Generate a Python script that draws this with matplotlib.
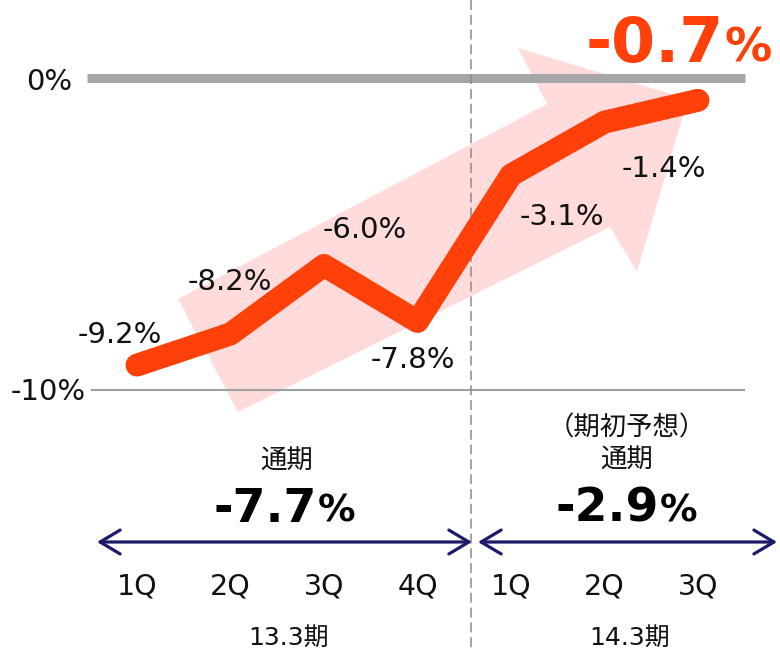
import matplotlib
matplotlib.use("Agg")
import matplotlib.pyplot as plt
from matplotlib.patches import Polygon, FancyArrowPatch, ArrowStyle

# ---- data ----
quarters = ["1Q", "2Q", "3Q", "4Q", "1Q", "2Q", "3Q"]
values = [-9.2, -8.2, -6.0, -7.8, -3.1, -1.4, -0.7]
periods = ["13.3期", "14.3期"]
annual_values = [-7.7, -2.9]
y_ticks = [0, -10]
y_tick_labels = ["0%", "-10%"]

W, H = 780, 650
fig = plt.figure(figsize=(W / 100, H / 100), dpi=100)
ax = fig.add_axes([0, 0, 1, 1])
ax.set_axis_off()

# pixel <-> data mapping
X0, DX = 137.0, 93.5      # x pixel of first quarter, spacing
Y0, DY = 78.5, 31.15      # y pixel of 0%, pixels per 1%
ax.set_xlim(-X0 / DX, (W - X0) / DX)
ax.set_ylim((Y0 - H) / DY, Y0 / DY)


def X(px):
    return (px - X0) / DX


def Y(py):
    return (Y0 - py) / DY


CJK = ["DejaVu Sans", "Noto Sans CJK JP"]
RED = "#FF4009"
NAVY = "#1B1A6B"
TXT = "#111111"

# pink background arrow (decoration)
arrow_px = [(238, 412), (178, 299), (547, 104), (518, 48), (688, 99),
            (637, 272), (610, 227)]
ax.add_patch(Polygon([(X(a), Y(b)) for a, b in arrow_px], closed=True,
                     facecolor="#FFDBDB", edgecolor="none", zorder=1))

# reference lines
ax.plot([X(87), X(745)], [y_ticks[0]] * 2, color="#A6A6A6", lw=6.5,
        solid_capstyle="butt", zorder=2)
ax.plot([X(91), X(745)], [y_ticks[1]] * 2, color="#A0A0A0", lw=1.5,
        solid_capstyle="butt", zorder=2)
for yt, lab, bl in zip(y_ticks, y_tick_labels, [90.5, 400]):
    ax.text(X(72) if yt == 0 else X(86), Y(bl), lab, ha="right", va="baseline",
            fontsize=21, color=TXT, zorder=4)

# divider
ax.plot([3.57, 3.57], [Y(0), Y(H)], color="#8C8C8C", lw=1.1,
        dashes=(6.5, 3.2), zorder=2)

# main line
xs = list(range(len(values)))
ax.plot(xs, values, color=RED, lw=16.5, solid_capstyle="round",
        solid_joinstyle="round", zorder=3)

# data labels: horizontal offset (px) from each point, baseline (px)
label_dx_px = [-17, -1, 41, -5, 51, 59]
label_base_px = [343, 290, 238, 368, 225, 177]
for i, v in enumerate(values[:-1]):
    cx = X0 + DX * i + label_dx_px[i]
    ax.text(X(cx), Y(label_base_px[i]), f"{v:.1f}%", ha="center",
            va="baseline", fontsize=21, color=TXT, zorder=4)

# latest value, large red
last = values[-1]
ax.text(X(724), Y(62), f"{last:.1f}", ha="right", va="baseline",
        fontsize=45.5, fontweight="bold", color=RED, zorder=4)
ax.text(X(725), Y(62), "%", ha="left", va="baseline",
        fontsize=34, fontweight="bold", color=RED, zorder=4)

# quarter labels
for i, q in enumerate(quarters):
    ax.text(i, Y(594), q, ha="center", va="baseline", fontsize=20.5,
            color=TXT, zorder=4)

# period labels
for cx, p in zip([289, 630], periods):
    ax.text(X(cx), Y(645), p, ha="center", va="baseline", fontsize=18,
            family=CJK, color=TXT, zorder=4)

# annual notes
ax.text(X(287), Y(469), "通期", ha="center", va="baseline", fontsize=19,
        family=CJK, color=TXT, zorder=4)
ax.text(X(627), Y(435), "（期初予想）", ha="center", va="baseline",
        fontsize=19, family=CJK, color=TXT, zorder=4)
ax.text(X(627), Y(468), "通期", ha="center", va="baseline", fontsize=19,
        family=CJK, color=TXT, zorder=4)

# annual values
for split, v in zip([317, 659], annual_values):
    ax.text(X(split), Y(522), f"{v:.1f}", ha="right", va="baseline",
            fontsize=34, fontweight="bold", color="black", zorder=4)
    ax.text(X(split + 1), Y(522), "%", ha="left", va="baseline",
            fontsize=27, fontweight="bold", color="black", zorder=4)

# period double arrows
style = ArrowStyle("<->", head_length=14.4, head_width=8.6)
for a, b in [(97, 472), (478, 777)]:
    ax.add_patch(FancyArrowPatch((X(a), Y(542)), (X(b), Y(542)),
                                 arrowstyle=style, mutation_scale=1,
                                 color=NAVY, lw=2.3, shrinkA=0, shrinkB=0,
                                 zorder=4))

fig.savefig("out.png", dpi=100)
